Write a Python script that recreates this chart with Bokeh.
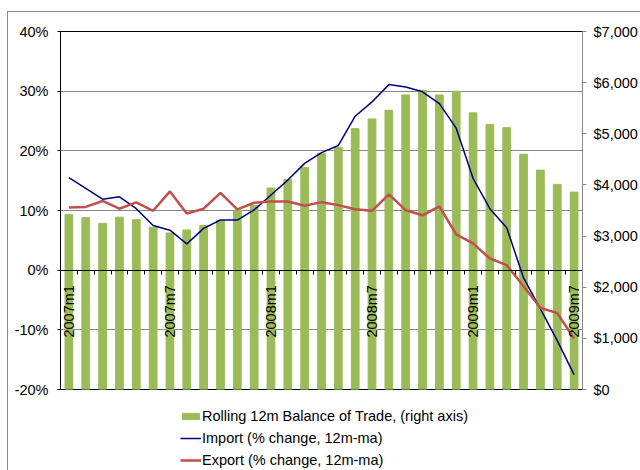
from math import pi
from bokeh.plotting import figure
from bokeh.layouts import column
from bokeh.models import (Range1d, LinearAxis, FixedTicker, PrintfTickFormatter,
                          NumeralTickFormatter, Legend, LegendItem)
from bokeh.core.properties import value
from bokeh.embed import file_html
from bokeh.resources import INLINE

# ---- data ----
months = ["2007m1", "2007m2", "2007m3", "2007m4", "2007m5", "2007m6",
          "2007m7", "2007m8", "2007m9", "2007m10", "2007m11", "2007m12",
          "2008m1", "2008m2", "2008m3", "2008m4", "2008m5", "2008m6",
          "2008m7", "2008m8", "2008m9", "2008m10", "2008m11", "2008m12",
          "2009m1", "2009m2", "2009m3", "2009m4", "2009m5", "2009m6", "2009m7"]
balance = [3420, 3360, 3250, 3370, 3320, 3170, 3060, 3120, 3210, 3310, 3510, 3600,
           3940, 4110, 4340, 4620, 4730, 5100, 5290, 5460, 5760, 5850, 5760, 5830,
           5410, 5180, 5120, 4600, 4290, 4010, 3860]
imports = [15.5, 13.7, 11.9, 12.3, 10.3, 7.5, 6.7, 4.4, 7.0, 8.4, 8.4, 10.1,
           12.6, 15.1, 17.9, 19.7, 20.9, 25.8, 28.2, 31.1, 30.7, 29.9, 27.9, 23.8,
           15.4, 10.3, 7.1, -1.3, -6.5, -11.8, -17.5]
exports = [10.5, 10.6, 11.6, 10.3, 11.35, 9.95, 13.2, 9.5, 10.3, 12.95, 10.2, 11.3,
           11.5, 11.5, 10.8, 11.4, 10.9, 10.2, 9.95, 12.7, 10.05, 9.2, 10.7, 6.0,
           4.5, 1.95, 0.85, -2.7, -6.3, -7.2, -11.45]
shown_labels = ["2007m1", "2007m7", "2008m1", "2008m7", "2009m1", "2009m7"]
pct_ticks = [-20, -10, 0, 10, 20, 30, 40]
usd_ticks = [0, 1000, 2000, 3000, 4000, 5000, 6000, 7000]
series_names = ["Rolling 12m Balance of Trade, (right axis)",
                "Import (% change, 12m-ma)",
                "Export (% change, 12m-ma)"]

FONT = "Liberation Sans"
FS = "14.5px"
GRID = "#868686"
GREEN, NAVY, RED = "#9BBB59", "#000080", "#C0504D"

x = list(range(len(months)))

p = figure(width=632, height=393, output_backend="svg", toolbar_location=None,
           x_axis_type=None,
           x_range=Range1d(-0.5, len(months) - 0.5),
           y_range=Range1d(pct_ticks[0], pct_ticks[-1]),
           min_border_left=52, min_border_right=58, min_border_top=19,
           min_border_bottom=16)
p.extra_y_ranges = {"usd": Range1d(usd_ticks[0], usd_ticks[-1])}
p.background_fill_color = "white"
p.border_fill_color = "white"
p.outline_line_color = "black"
p.outline_line_width = 1

# left axis
ya = p.yaxis[0]
ya.ticker = FixedTicker(ticks=pct_ticks)
ya.formatter = PrintfTickFormatter(format="%d%%")
ya.axis_line_color = "black"
ya.major_tick_line_color = "black"
ya.major_tick_out = 3
ya.major_tick_in = 0
ya.minor_tick_line_color = None
ya.major_label_standoff = 9
ya.major_label_text_font = FONT
ya.major_label_text_font_size = FS
ya.major_label_text_color = "black"

p.ygrid.ticker = FixedTicker(ticks=pct_ticks)
p.ygrid.grid_line_color = GRID
p.ygrid.grid_line_width = 1

# right axis
ra = LinearAxis(y_range_name="usd", ticker=FixedTicker(ticks=usd_ticks),
                formatter=NumeralTickFormatter(format="$0,0"))
ra.axis_line_color = GRID
ra.major_tick_line_color = GRID
ra.major_tick_out = 4
ra.major_tick_in = 0
ra.minor_tick_line_color = None
ra.major_label_standoff = 7
ra.major_label_text_font = FONT
ra.major_label_text_font_size = FS
ra.major_label_text_color = "black"
p.add_layout(ra, "right")

# glyphs
bars = p.vbar(x=x, top=balance, width=0.46, y_range_name="usd",
              fill_color=GREEN, line_color=GREEN)
imp = p.line(x, imports, line_color=NAVY, line_width=1.5)
exp = p.line(x, exports, line_color=RED, line_width=2.5)

# category axis at 0%: boundary ticks
bounds = [i - 0.5 for i in range(len(months) + 1)]
ta = LinearAxis(ticker=FixedTicker(ticks=bounds), fixed_location=0)
ta.axis_line_color = "black"
ta.major_tick_line_color = "black"
ta.major_tick_out = 4
ta.major_tick_in = 0
ta.minor_tick_line_color = None
ta.major_label_text_font_size = "1px"
ta.major_label_text_color = None
ta.major_label_standoff = 0
p.add_layout(ta, "below")

# category labels (vertical, hanging below the 0% line)
lab_idx = [months.index(m) for m in shown_labels]
p.text(x=lab_idx, y=[0] * len(lab_idx), text=shown_labels, angle=pi / 2,
       text_align="right", text_baseline="middle", y_offset=15,
       text_font=value(FONT), text_font_size=FS, text_color="black")

# legend strip below the chart (same series as hidden renderers)
lf = figure(width=632, height=65, output_backend="svg", toolbar_location=None,
            x_axis_type=None, y_axis_type=None, min_border=0,
            x_range=Range1d(-0.5, len(months) - 0.5),
            y_range=Range1d(pct_ticks[0], pct_ticks[-1]))
lf.extra_y_ranges = {"usd": Range1d(usd_ticks[0], usd_ticks[-1])}
lf.outline_line_color = None
lf.background_fill_color = "white"
lf.border_fill_color = "white"
lf.xgrid.visible = False
lf.ygrid.visible = False
lb = lf.vbar(x=x, top=balance, width=0.46, y_range_name="usd",
             fill_color=GREEN, line_color=GREEN, visible=False)
li = lf.line(x, imports, line_color=NAVY, line_width=1.5, visible=False)
le = lf.line(x, exports, line_color=RED, line_width=2.5, visible=False)
legend = Legend(items=[LegendItem(label=series_names[0], renderers=[lb]),
                       LegendItem(label=series_names[1], renderers=[li]),
                       LegendItem(label=series_names[2], renderers=[le])],
                location=(120, 0))
legend.border_line_color = None
legend.background_fill_alpha = 0
legend.inactive_fill_alpha = 0
legend.padding = 0
legend.margin = 0
legend.spacing = 2
legend.label_standoff = 1
legend.glyph_width = 21
legend.glyph_height = 8
legend.label_height = 20
legend.label_text_font = FONT
legend.label_text_font_size = FS
legend.label_text_color = "black"
lf.add_layout(legend)

layout = column(p, lf, spacing=0)
layout.styles = {"position": "relative", "left": "7px", "top": "11px",
                 "border-top": "1px solid #8a8a8a",
                 "border-left": "1px solid #8a8a8a"}

open("out.html", "w").write(file_html(layout, INLINE))
